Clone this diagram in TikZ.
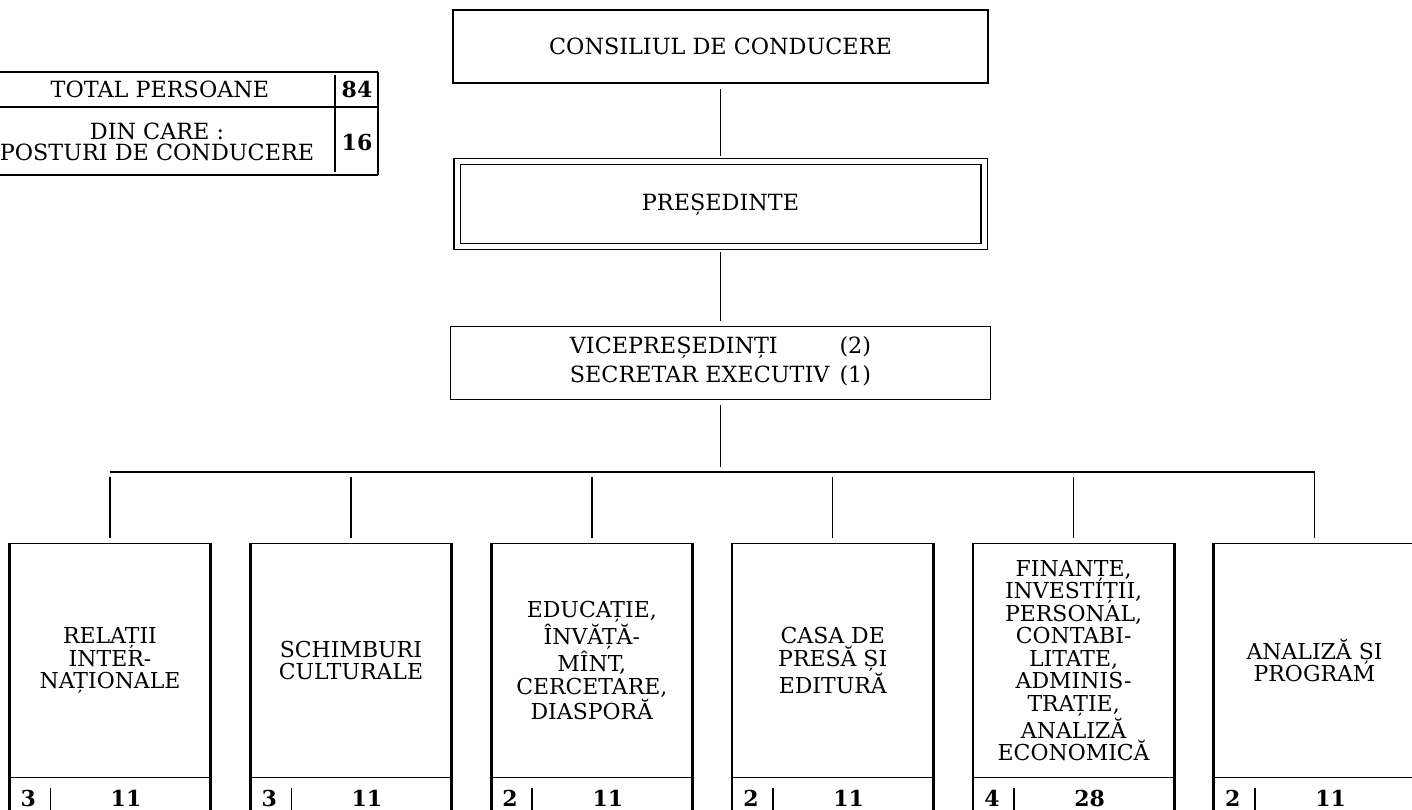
\documentclass[tikz,border=0pt]{standalone}
\usepackage{fontspec}
\setmainfont{DejaVu Serif}
\usetikzlibrary{positioning}

\begin{document}
\begin{tikzpicture}[
    unitbox/.style={draw, line width=0.8pt, minimum width=10.7cm, minimum height=1.46cm, font=\fontsize{12.7}{13}\selectfont},
    deptbox/.style={draw, line width=0.8pt, minimum width=4cm, minimum height=4.68cm, align=center, font=\fontsize{12.5}{12.8}\selectfont},
    side/.style={line width=1.6pt},
    link/.style={line width=0.8pt, shorten <=0.1cm, shorten >=0.1cm},
    countnr/.style={font=\fontsize{12.5}{13}\selectfont\bfseries},
    tabletext/.style={align=center, font=\fontsize{12.7}{11.8}\selectfont},
  ]
  \useasboundingbox (0,0) rectangle (28.24,-16.2);

  % summary table, top left
  \draw[line width=0.8pt] (0,-1.44) -- (7.56,-1.44) (0,-2.14) -- (7.56,-2.14) (0,-3.5) -- (7.56,-3.5);
  \draw[side] (7.56,-1.44) -- (7.56,-3.5);
  \draw[line width=0.8pt] (6.7,-1.5) -- (6.7,-3.45);
  \node (total) [tabletext] at (3.2,-1.79) {TOTAL PERSOANE};
  \node (totalnr) [countnr] at (7.14,-1.79) {84};
  \node (conducere) [tabletext] at (3.14,-2.84) {DIN CARE :\\POSTURI DE CONDUCERE};
  \node (conducerenr) [countnr] at (7.14,-2.86) {16};

  % top of the chart
  \node (consiliu) [unitbox] at (14.41,-0.93) {CONSILIUL DE CONDUCERE};
  \node (presedinte) [unitbox, line width=0.6pt, double, double distance=0.1cm, minimum width=10.54cm, minimum height=1.7cm, below=1.55cm of consiliu] {PREȘEDINTE};
  \node (vicepres) [unitbox, minimum width=10.8cm, below=1.57cm of presedinte] {\begin{tabular}{@{}l@{\hspace{0.45em}}l@{}}VICEPREȘEDINȚI & (2)\\[2.6pt] SECRETAR EXECUTIV & (1)\end{tabular}};

  \draw[link] (consiliu) -- (presedinte);
  \draw[link] (presedinte) -- (vicepres);
  \coordinate (bus) at ([yshift=-1.44cm]vicepres.south);
  \draw[link] (vicepres) -- (bus);

  % departments
  \node (relatii) [deptbox, anchor=north] at (2.2,-10.86) {RELAȚII\\INTER-\\NAȚIONALE};
  \node (schimburi) [deptbox, right=0.79cm of relatii] {SCHIMBURI\\CULTURALE};
  \node (educatie) [deptbox, right=0.79cm of schimburi] {EDUCAȚIE,\\ÎNVĂȚĂ-\\MÎNT,\\CERCETARE,\\DIASPORĂ};
  \node (presa) [deptbox, right=0.79cm of educatie] {CASA DE\\PRESĂ ȘI\\EDITURĂ};
  \node (finante) [deptbox, right=0.79cm of presa] {FINANȚE,\\INVESTIȚII,\\PERSONAL,\\CONTABI-\\LITATE,\\ADMINIS-\\TRAȚIE,\\ANALIZĂ\\ECONOMICĂ};
  \node (analiza) [deptbox, right=0.79cm of finante] {ANALIZĂ ȘI\\PROGRAM};

  \draw[line width=0.8pt, shorten >=0.1cm] (bus -| relatii.north) -- (bus -| analiza.north) -- (analiza.north);
  \draw[link] (bus -| relatii.north) -- (relatii.north);
  \draw[link] (bus -| schimburi.north) -- (schimburi.north);
  \draw[link] (bus -| educatie.north) -- (educatie.north);
  \draw[link] (bus -| presa.north) -- (presa.north);
  \draw[link] (bus -| finante.north) -- (finante.north);

  % thick sides and head counts
  \draw[side] (relatii.north west) -- ++(0,-5.34) (relatii.north east) -- ++(0,-5.34);
  \draw[line width=0.8pt] ([xshift=0.82cm, yshift=-0.2cm]relatii.south west) -- ++(0,-0.46);
  \node (relatii_lead) [countnr] at ([xshift=0.38cm, yshift=-0.4cm]relatii.south west) {3};
  \node (relatii_staff) [countnr] at ([xshift=0.32cm, yshift=-0.4cm]relatii.south) {11};

  \draw[side] (schimburi.north west) -- ++(0,-5.34) (schimburi.north east) -- ++(0,-5.34);
  \draw[line width=0.8pt] ([xshift=0.82cm, yshift=-0.2cm]schimburi.south west) -- ++(0,-0.46);
  \node (schimburi_lead) [countnr] at ([xshift=0.38cm, yshift=-0.4cm]schimburi.south west) {3};
  \node (schimburi_staff) [countnr] at ([xshift=0.32cm, yshift=-0.4cm]schimburi.south) {11};

  \draw[side] (educatie.north west) -- ++(0,-5.34) (educatie.north east) -- ++(0,-5.34);
  \draw[line width=0.8pt] ([xshift=0.82cm, yshift=-0.2cm]educatie.south west) -- ++(0,-0.46);
  \node (educatie_lead) [countnr] at ([xshift=0.38cm, yshift=-0.4cm]educatie.south west) {2};
  \node (educatie_staff) [countnr] at ([xshift=0.32cm, yshift=-0.4cm]educatie.south) {11};

  \draw[side] (presa.north west) -- ++(0,-5.34) (presa.north east) -- ++(0,-5.34);
  \draw[line width=0.8pt] ([xshift=0.82cm, yshift=-0.2cm]presa.south west) -- ++(0,-0.46);
  \node (presa_lead) [countnr] at ([xshift=0.38cm, yshift=-0.4cm]presa.south west) {2};
  \node (presa_staff) [countnr] at ([xshift=0.32cm, yshift=-0.4cm]presa.south) {11};

  \draw[side] (finante.north west) -- ++(0,-5.34) (finante.north east) -- ++(0,-5.34);
  \draw[line width=0.8pt] ([xshift=0.82cm, yshift=-0.2cm]finante.south west) -- ++(0,-0.46);
  \node (finante_lead) [countnr] at ([xshift=0.38cm, yshift=-0.4cm]finante.south west) {4};
  \node (finante_staff) [countnr] at ([xshift=0.32cm, yshift=-0.4cm]finante.south) {28};

  \draw[side] (analiza.north west) -- ++(0,-5.34) (analiza.north east) -- ++(0,-5.34);
  \draw[line width=0.8pt] ([xshift=0.82cm, yshift=-0.2cm]analiza.south west) -- ++(0,-0.46);
  \node (analiza_lead) [countnr] at ([xshift=0.38cm, yshift=-0.4cm]analiza.south west) {2};
  \node (analiza_staff) [countnr] at ([xshift=0.32cm, yshift=-0.4cm]analiza.south) {11};
\end{tikzpicture}
\end{document}
